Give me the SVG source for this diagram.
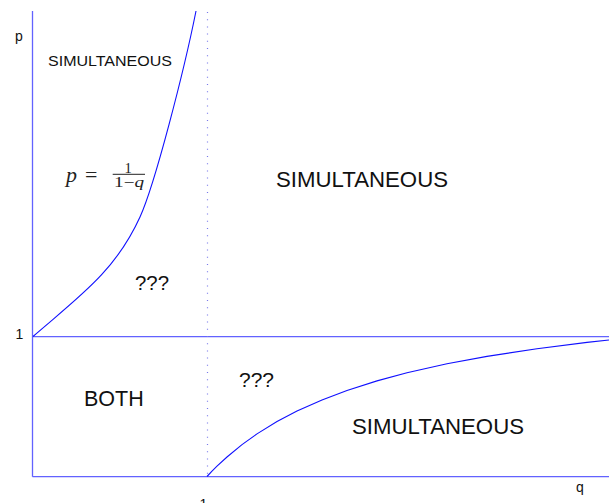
<svg xmlns="http://www.w3.org/2000/svg" width="609" height="503" viewBox="0 0 609 503">
<style>
.axis{stroke:#6262ff;stroke-width:1.3;fill:none}
.curve{stroke:#1010ff;stroke-width:1.1;fill:none}
.dot{stroke:#7a7aea;stroke-width:1.2;stroke-dasharray:1 6.2;fill:none}
.lbl{font-family:"Liberation Sans",Arial,sans-serif;fill:#111}
.math{font-family:"Liberation Serif","DejaVu Serif",serif;fill:#222}
</style>
<rect width="609" height="503" fill="#fff"/>
<g id="connectors">
<line class="axis" x1="32.5" y1="11" x2="32.5" y2="476.7"/>
<line class="axis" x1="32.5" y1="476.7" x2="609" y2="476.7"/>
<line class="axis" x1="32.5" y1="336.7" x2="609" y2="336.7"/>
<line class="dot" x1="207.5" y1="12" x2="207.5" y2="476"/>
<path id="upper-curve" class="curve" d="M33,336.5 C78,297.4 115,272 140,217 C155,184 184,71 196,11"/>
<polyline id="lower-curve" class="curve" points="207,476.5 212,471.2 217,466.2 227,457 242,444.6 257,433.9 277,421.6 297,411.1 322,399.9 347,390.4 377,380.9 407,372.8 447,363.8 487,356.4 537,348.7 587,342.4 609,340"/>
</g>
<g id="axis-labels">
<text class="lbl" x="15" y="41" font-size="14">p</text>
<text class="lbl" x="576" y="491.5" font-size="14">q</text>
<text class="lbl" x="15.5" y="339" font-size="14">1</text>
<text class="lbl" x="199.5" y="509" font-size="14">1</text>
</g>
<g id="region-top-left"><text class="lbl" x="48" y="65.5" font-size="15" textLength="124" lengthAdjust="spacingAndGlyphs">SIMULTANEOUS</text></g>
<g id="region-top-right"><text class="lbl" x="276" y="187.3" font-size="21.5" textLength="172" lengthAdjust="spacingAndGlyphs">SIMULTANEOUS</text></g>
<g id="region-bottom-right"><text class="lbl" x="352" y="434" font-size="21.5" textLength="172" lengthAdjust="spacingAndGlyphs">SIMULTANEOUS</text></g>
<g id="region-both"><text class="lbl" x="84" y="405.7" font-size="21.5">BOTH</text></g>
<g id="region-q1"><text class="lbl" x="135" y="290" font-size="21" textLength="34" lengthAdjust="spacingAndGlyphs">???</text></g>
<g id="region-q2"><text class="lbl" x="239" y="386.7" font-size="21" textLength="35" lengthAdjust="spacingAndGlyphs">???</text></g>
<g id="formula">
<text class="math" x="66" y="182" font-size="22" font-style="italic">p</text>
<text class="math" x="85" y="182" font-size="22">=</text>
<text class="math" x="124.5" y="172.5" font-size="14.5">1</text>
<line x1="112.7" y1="174.3" x2="145" y2="174.3" stroke="#222" stroke-width="1"/>
<text class="math" x="114" y="187" font-size="14.5" textLength="30" lengthAdjust="spacingAndGlyphs">1−<tspan font-style="italic">q</tspan></text>
</g>
</svg>
